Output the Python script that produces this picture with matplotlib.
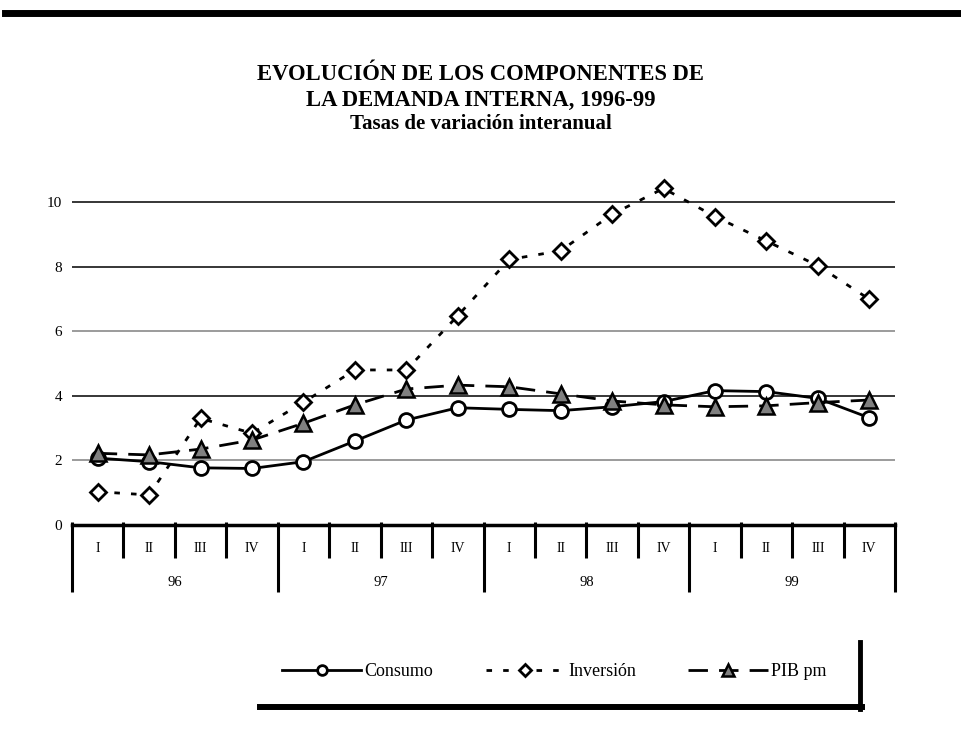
import matplotlib.pyplot as plt
from matplotlib.lines import Line2D

plt.rcParams['font.family'] = ['Liberation Serif', 'DejaVu Serif']

# datos (tasas de variación interanual, %)
trimestres = ['I', 'II', 'III', 'IV'] * 4
anios = ['96', '97', '98', '99']
consumo = [2.07, 1.96, 1.77, 1.75, 1.96, 2.6, 3.25, 3.63,
           3.58, 3.54, 3.66, 3.82, 4.16, 4.13, 3.92, 3.32]
inversion = [1.03, 0.93, 3.3, 2.84, 3.8, 4.8, 4.8, 6.48,
             8.22, 8.49, 9.62, 10.42, 9.55, 8.79, 8.03, 6.99]
pib = [2.22, 2.17, 2.35, 2.63, 3.15, 3.72, 4.21, 4.33,
       4.28, 4.06, 3.84, 3.72, 3.66, 3.69, 3.79, 3.87]
y_ticks = [0, 2, 4, 6, 8, 10]
grid_colors = {2: '#808080', 4: 'black', 6: '#808080', 8: 'black', 10: 'black'}

W, H = 961, 743
fig = plt.figure(figsize=(W / 100, H / 100), dpi=100)

# ejes en píxeles: x 72..895, y=0 en 525, 10 en 202
left, right, y0, y10 = 72, 895, 525, 202
ppu = (y0 - y10) / 10.0
ymax = 11
ax = fig.add_axes([left / W, (H - y0) / H, (right - left) / W, ymax * ppu / H])

x = list(range(len(consumo)))
ax.set_xlim(-0.5, len(x) - 0.5)
ax.set_ylim(0, ymax)

# líneas de cuadrícula
for v, c in grid_colors.items():
    ax.axhline(v, color=c, lw=1.1, zorder=1)

ax.plot(x, consumo, '-', color='black', lw=2, marker='o', ms=10,
        mfc='white', mec='black', mew=2, zorder=4, label='Consumo')
ax.plot(x, inversion, color='black', lw=2, ls=(0, (2, 4)), marker='D', ms=8.5,
        mfc='white', mec='black', mew=2, zorder=3, label='Inversión')
ax.plot(x, pib, color='black', lw=2, ls=(0, (7, 4)), marker='^', ms=12,
        mfc='#808080', mec='black', mew=1.8, zorder=5, label='PIB pm')

# eje y
for s in ['top', 'right', 'left']:
    ax.spines[s].set_visible(False)
ax.spines['bottom'].set_linewidth(2.5)
ax.set_yticks(y_ticks)
ax.set_yticklabels([str(t) for t in y_ticks], fontsize=11)
ax.tick_params(axis='y', length=0, pad=7)
ax.set_xticks([])

# eje de categorías en dos niveles
q_down = 33 / ppu
y_down = 67 / ppu
up = 3 / ppu
for i in range(len(x) + 1):
    b = i - 0.5
    bottom = -y_down if i % 4 == 0 else -q_down
    ax.plot([b, b], [up, bottom], color='black', lw=2.2, clip_on=False,
            solid_capstyle='butt')
for i, q in enumerate(trimestres):
    ax.text(i, -24 / ppu, q, ha='center', va='center', fontsize=10)
for j, a in enumerate(anios):
    ax.text(4 * j + 1.5, -58 / ppu, a, ha='center', va='center', fontsize=10.5)

# título
fig.text(0.5, 1 - 75 / H, 'EVOLUCIÓN DE LOS COMPONENTES DE', ha='center',
         va='center', fontsize=16.3, fontweight='bold')
fig.text(0.5, 1 - 100 / H, 'LA DEMANDA INTERNA, 1996-99', ha='center',
         va='center', fontsize=16.3, fontweight='bold')
fig.text(0.5, 1 - 124 / H, 'Tasas de variación interanual', ha='center',
         va='center', fontsize=15, fontweight='bold')

# barra superior
fig.add_artist(Line2D([5 / W, 1], [1 - 13 / H, 1 - 13 / H], color='black',
                      lw=5, transform=fig.transFigure))

# leyenda
leg = fig.legend(loc='center left', bbox_to_anchor=(282 / W, 1 - 672 / H),
                 ncol=3, frameon=False, fontsize=13, handlelength=4.4,
                 handletextpad=0.17, columnspacing=2.9, markerscale=0.7,
                 borderpad=0, borderaxespad=0)
fig.add_artist(Line2D([260 / W, 862 / W], [1 - 707 / H, 1 - 707 / H],
                      color='black', lw=4.3, transform=fig.transFigure))
fig.add_artist(Line2D([860 / W, 860 / W], [1 - 642 / H, 1 - 709 / H],
                      color='black', lw=3.5, transform=fig.transFigure))

fig.savefig('out.png', dpi=100)
